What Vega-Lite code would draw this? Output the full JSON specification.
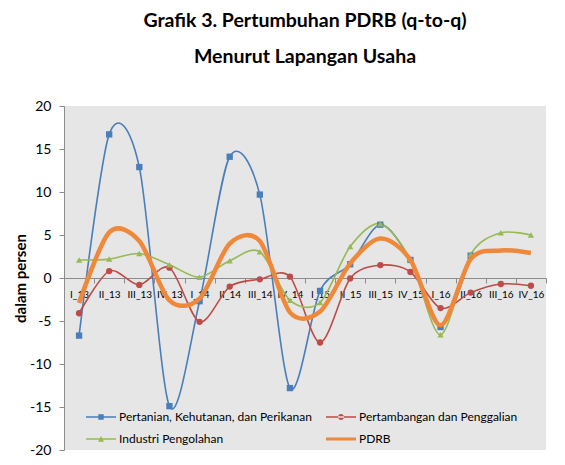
{
  "$schema": "https://vega.github.io/schema/vega-lite/v6.json",
  "width": 482,
  "height": 344,
  "autosize": {"type": "none"},
  "padding": {"left": 64, "top": 106, "right": 19, "bottom": 15},
  "background": "white",
  "title": {
    "text": ["Grafik 3. Pertumbuhan PDRB (q-to-q)", "Menurut Lapangan Usaha"],
    "font": "Lato",
    "fontSize": 19.5,
    "fontWeight": "bold",
    "color": "#000000",
    "anchor": "middle",
    "frame": "group",
    "lineHeight": 36,
    "offset": 32
  },
  "config": {
    "view": {"fill": "#E6E6E6", "stroke": null},
    "font": "Lato"
  },
  "data": {
    "values": [
      {"q": "I_13", "s": "Pertanian, Kehutanan, dan Perikanan", "v": -6.7},
      {"q": "II_13", "s": "Pertanian, Kehutanan, dan Perikanan", "v": 16.7},
      {"q": "III_13", "s": "Pertanian, Kehutanan, dan Perikanan", "v": 12.9},
      {"q": "IV_13", "s": "Pertanian, Kehutanan, dan Perikanan", "v": -14.9},
      {"q": "I_14", "s": "Pertanian, Kehutanan, dan Perikanan", "v": -2.7},
      {"q": "II_14", "s": "Pertanian, Kehutanan, dan Perikanan", "v": 14.1},
      {"q": "III_14", "s": "Pertanian, Kehutanan, dan Perikanan", "v": 9.7},
      {"q": "IV_14", "s": "Pertanian, Kehutanan, dan Perikanan", "v": -12.8},
      {"q": "I_15", "s": "Pertanian, Kehutanan, dan Perikanan", "v": -1.5},
      {"q": "II_15", "s": "Pertanian, Kehutanan, dan Perikanan", "v": 1.6},
      {"q": "III_15", "s": "Pertanian, Kehutanan, dan Perikanan", "v": 6.2},
      {"q": "IV_15", "s": "Pertanian, Kehutanan, dan Perikanan", "v": 2.1},
      {"q": "I_16", "s": "Pertanian, Kehutanan, dan Perikanan", "v": -5.7},
      {"q": "II_16", "s": "Pertanian, Kehutanan, dan Perikanan", "v": 2.6},
      {"q": "I_13", "s": "Pertambangan dan Penggalian", "v": -4.1},
      {"q": "II_13", "s": "Pertambangan dan Penggalian", "v": 0.8},
      {"q": "III_13", "s": "Pertambangan dan Penggalian", "v": -0.8},
      {"q": "IV_13", "s": "Pertambangan dan Penggalian", "v": 1.2},
      {"q": "I_14", "s": "Pertambangan dan Penggalian", "v": -5.1},
      {"q": "II_14", "s": "Pertambangan dan Penggalian", "v": -1.0},
      {"q": "III_14", "s": "Pertambangan dan Penggalian", "v": -0.15},
      {"q": "IV_14", "s": "Pertambangan dan Penggalian", "v": 0.15},
      {"q": "I_15", "s": "Pertambangan dan Penggalian", "v": -7.5},
      {"q": "II_15", "s": "Pertambangan dan Penggalian", "v": -0.05},
      {"q": "III_15", "s": "Pertambangan dan Penggalian", "v": 1.5},
      {"q": "IV_15", "s": "Pertambangan dan Penggalian", "v": 0.7},
      {"q": "I_16", "s": "Pertambangan dan Penggalian", "v": -3.5},
      {"q": "II_16", "s": "Pertambangan dan Penggalian", "v": -1.7},
      {"q": "III_16", "s": "Pertambangan dan Penggalian", "v": -0.7},
      {"q": "IV_16", "s": "Pertambangan dan Penggalian", "v": -0.9},
      {"q": "I_13", "s": "Industri Pengolahan", "v": 2.1},
      {"q": "II_13", "s": "Industri Pengolahan", "v": 2.2},
      {"q": "III_13", "s": "Industri Pengolahan", "v": 2.85},
      {"q": "IV_13", "s": "Industri Pengolahan", "v": 1.55},
      {"q": "I_14", "s": "Industri Pengolahan", "v": 0.1},
      {"q": "II_14", "s": "Industri Pengolahan", "v": 2.0},
      {"q": "III_14", "s": "Industri Pengolahan", "v": 3.05},
      {"q": "IV_14", "s": "Industri Pengolahan", "v": -2.6},
      {"q": "I_15", "s": "Industri Pengolahan", "v": -2.85},
      {"q": "II_15", "s": "Industri Pengolahan", "v": 3.65},
      {"q": "III_15", "s": "Industri Pengolahan", "v": 6.3},
      {"q": "IV_15", "s": "Industri Pengolahan", "v": 2.15},
      {"q": "I_16", "s": "Industri Pengolahan", "v": -6.6},
      {"q": "II_16", "s": "Industri Pengolahan", "v": 2.75},
      {"q": "III_16", "s": "Industri Pengolahan", "v": 5.25},
      {"q": "IV_16", "s": "Industri Pengolahan", "v": 5.0},
      {"q": "I_13", "s": "PDRB", "v": -2.9},
      {"q": "II_13", "s": "PDRB", "v": 5.3},
      {"q": "III_13", "s": "PDRB", "v": 4.3},
      {"q": "IV_13", "s": "PDRB", "v": -2.6},
      {"q": "I_14", "s": "PDRB", "v": -2.4},
      {"q": "II_14", "s": "PDRB", "v": 4.0},
      {"q": "III_14", "s": "PDRB", "v": 4.3},
      {"q": "IV_14", "s": "PDRB", "v": -4.0},
      {"q": "I_15", "s": "PDRB", "v": -3.9},
      {"q": "II_15", "s": "PDRB", "v": 1.7},
      {"q": "III_15", "s": "PDRB", "v": 4.6},
      {"q": "IV_15", "s": "PDRB", "v": 2.1},
      {"q": "I_16", "s": "PDRB", "v": -5.5},
      {"q": "II_16", "s": "PDRB", "v": 2.2},
      {"q": "III_16", "s": "PDRB", "v": 3.2},
      {"q": "IV_16", "s": "PDRB", "v": 2.9}
    ]
  },
  "encoding": {
    "x": {
      "field": "q",
      "type": "nominal",
      "sort": ["I_13","II_13","III_13","IV_13","I_14","II_14","III_14","IV_14","I_15","II_15","III_15","IV_15","I_16","II_16","III_16","IV_16"],
      "scale": {"paddingInner": 0, "paddingOuter": 0},
      "axis": {
        "title": null,
        "orient": "bottom",
        "offset": -172,
        "labelAngle": 0,
        "labelFont": "Lato",
        "labelFontSize": 10,
        "labelColor": "#000000",
        "labelPadding": 6,
        "domainColor": "#8C8C8C",
        "tickColor": "#8C8C8C",
        "tickSize": 5,
        "tickBand": "extent",
        "grid": false
      }
    },
    "y": {
      "field": "v",
      "type": "quantitative",
      "scale": {"domain": [-20, 20], "nice": false, "zero": false},
      "axis": {
        "title": "dalam persen",
        "titleFont": "Lato",
        "titleFontSize": 15,
        "titleFontWeight": "bold",
        "titleColor": "#000000",
        "titleX": -36,
        "titleY": 172,
        "titleAlign": "center",
        "values": [-20, -15, -10, -5, 0, 5, 10, 15, 20],
        "labelExpr": "'' + datum.value",
        "labelFont": "Lato",
        "labelFontSize": 14,
        "labelColor": "#000000",
        "labelPadding": 8,
        "domainColor": "#8C8C8C",
        "tickColor": "#8C8C8C",
        "tickSize": 5,
        "grid": false
      }
    },
    "color": {
      "field": "s",
      "type": "nominal",
      "scale": {
        "domain": ["Pertanian, Kehutanan, dan Perikanan", "Pertambangan dan Penggalian", "Industri Pengolahan", "PDRB"],
        "range": ["#4A7EBB", "#BE4B48", "#98B954", "#F0883A"]
      },
      "legend": {
        "title": null,
        "orient": "none",
        "legendX": 22,
        "legendY": 296,
        "direction": "horizontal",
        "columns": 2,
        "columnPadding": 14,
        "rowPadding": 1,
        "symbolSize": 900,
        "labelFont": "Lato",
        "labelFontSize": 12,
        "labelColor": "#000000",
        "labelOffset": 3,
        "labelLimit": 400,
        "encode": {
          "symbols": {
            "update": {
              "shape": {"signal": "datum.value === 'PDRB' ? 'M-1,-0.1H1V0.1H-1Z' : datum.value === 'Industri Pengolahan' ? 'M-1,-0.045H1V0.045H-1Z M-0.2,0.18L0,-0.2L0.2,0.18Z' : datum.value === 'Pertambangan dan Penggalian' ? 'M-1,-0.045H1V0.045H-1Z M-0.2,0A0.2,0.2,0,1,0,0.2,0A0.2,0.2,0,1,0,-0.2,0Z' : 'M-1,-0.045H1V0.045H-1Z M-0.18,-0.18H0.18V0.18H-0.18Z'"},
              "fill": {"scale": "color", "field": "value"},
              "strokeWidth": {"value": 0},
              "opacity": {"value": 1}
            }
          }
        }
      }
    }
  },
  "layer": [
    {
      "transform": [{"filter": "datum.s !== 'PDRB'"}],
      "mark": {"type": "line", "interpolate": "cardinal", "tension": 0.12, "strokeWidth": 1.6}
    },
    {
      "transform": [{"filter": "datum.s !== 'PDRB'"}],
      "mark": {"type": "point", "filled": true, "opacity": 1, "size": 40},
      "encoding": {
        "shape": {
          "field": "s",
          "type": "nominal",
          "scale": {
            "domain": ["Pertanian, Kehutanan, dan Perikanan", "Pertambangan dan Penggalian", "Industri Pengolahan"],
            "range": ["square", "circle", "triangle-up"]
          },
          "legend": null
        }
      }
    },
    {
      "transform": [{"filter": "datum.s === 'PDRB'"}],
      "mark": {"type": "line", "interpolate": "cardinal", "tension": 0.12, "strokeWidth": 4.5}
    }
  ]
}
